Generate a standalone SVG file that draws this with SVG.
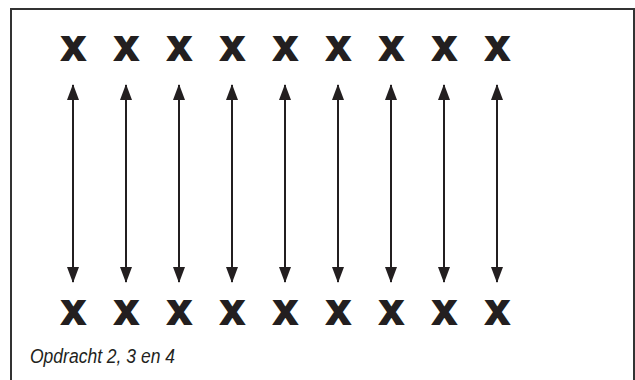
<svg xmlns="http://www.w3.org/2000/svg" width="635" height="380" viewBox="0 0 635 380">
<defs>
<style>
.x{font-family:"Liberation Sans",Arial,sans-serif;font-weight:bold;font-size:42px;fill:#231f20;stroke:#231f20;stroke-width:2;stroke-linejoin:miter;text-anchor:middle}
.lbl{font-family:"Liberation Sans",Arial,sans-serif;font-style:italic;font-size:20px;fill:#231f20}
.conn line{stroke:#231f20;stroke-width:2;marker-start:url(#ah);marker-end:url(#ah)}
</style>
<marker id="ah" viewBox="0 0 16 12" refX="15" refY="6" markerWidth="16" markerHeight="12" markerUnits="userSpaceOnUse" orient="auto-start-reverse">
<path d="M0,0 L16,6 L0,12 Z" fill="#231f20"/>
</marker>
</defs>
<rect x="0" y="0" width="635" height="380" fill="#fff"/>
<rect x="11" y="9" width="623" height="390" fill="none" stroke="#333" stroke-width="2"/>
<g id="top-row">
<g id="t1"><text class="x" x="73.5" y="60">x</text></g>
<g id="t2"><text class="x" x="126.5" y="60">x</text></g>
<g id="t3"><text class="x" x="179.5" y="60">x</text></g>
<g id="t4"><text class="x" x="232.5" y="60">x</text></g>
<g id="t5"><text class="x" x="285.5" y="60">x</text></g>
<g id="t6"><text class="x" x="338.5" y="60">x</text></g>
<g id="t7"><text class="x" x="391.5" y="60">x</text></g>
<g id="t8"><text class="x" x="444.5" y="60">x</text></g>
<g id="t9"><text class="x" x="497.5" y="60">x</text></g>
</g>
<g id="bottom-row">
<g id="b1"><text class="x" x="73.5" y="324">x</text></g>
<g id="b2"><text class="x" x="126.5" y="324">x</text></g>
<g id="b3"><text class="x" x="179.5" y="324">x</text></g>
<g id="b4"><text class="x" x="232.5" y="324">x</text></g>
<g id="b5"><text class="x" x="285.5" y="324">x</text></g>
<g id="b6"><text class="x" x="338.5" y="324">x</text></g>
<g id="b7"><text class="x" x="391.5" y="324">x</text></g>
<g id="b8"><text class="x" x="444.5" y="324">x</text></g>
<g id="b9"><text class="x" x="497.5" y="324">x</text></g>
</g>
<g id="connectors" class="conn">
<line x1="73" y1="85" x2="73" y2="282"/>
<line x1="126" y1="85" x2="126" y2="282"/>
<line x1="179" y1="85" x2="179" y2="282"/>
<line x1="232" y1="85" x2="232" y2="282"/>
<line x1="285" y1="85" x2="285" y2="282"/>
<line x1="338" y1="85" x2="338" y2="282"/>
<line x1="391" y1="85" x2="391" y2="282"/>
<line x1="444" y1="85" x2="444" y2="282"/>
<line x1="497" y1="85" x2="497" y2="282"/>
</g>
<g id="caption"><text class="lbl" x="30" y="363" textLength="145" lengthAdjust="spacingAndGlyphs">Opdracht 2, 3 en 4</text></g>
</svg>
